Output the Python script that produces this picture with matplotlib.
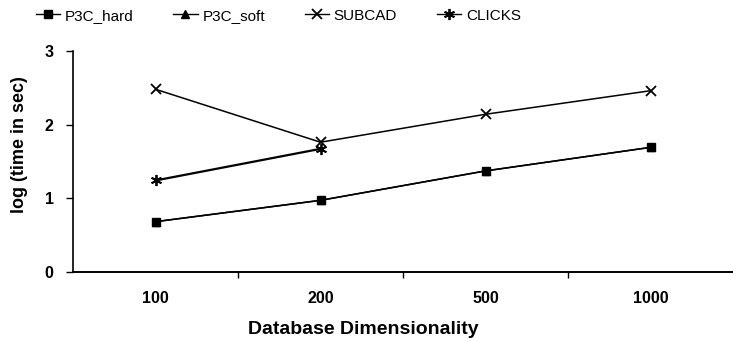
import numpy as np
import matplotlib
matplotlib.use("Agg")
import matplotlib.pyplot as plt
from matplotlib.lines import Line2D

plt.rcParams['font.family'] = ['Liberation Sans', 'DejaVu Sans']

dims = ["100", "200", "500", "1000"]
p3c_hard = [0.68, 0.97, 1.37, 1.69]
p3c_soft = [0.68, 0.97, 1.37, 1.69]
subcad = [2.48, 1.76, 2.14, 2.46]
clicks = [1.24, 1.67]

fig = plt.figure(figsize=(7.33, 3.42), dpi=100)
ax = fig.add_axes([73/733, (342-271.7)/342, 660/733, (271.7-51)/342])

x = np.arange(len(dims), dtype=float)
ax.plot(x, p3c_soft, linestyle="-", marker="^", color="black", lw=1.1, ms=6, zorder=2)
ax.plot(x, p3c_hard, linestyle="-", marker="s", color="black", lw=1.1, ms=6, zorder=3)
ax.plot(x, subcad, linestyle="-", marker="x", color="black", lw=1.1, ms=7, mew=1.3, zorder=3)

# CLICKS only has the first two dimensionalities
xc = x[:len(clicks)]
ax.plot(xc, clicks, linestyle="-", color="black", lw=1.6, zorder=5)
ax.plot(xc, clicks, linestyle="none", marker=(6, 2, 0), color="black", ms=8, mew=1.3, zorder=6)

ax.set_xlim(-0.5, 3.5)
ax.set_ylim(0, 3)
ax.set_yticks([0, 1, 2, 3])
ax.set_xticks(x)
ax.set_xticklabels(dims)
ax.set_xticks([0.5, 1.5, 2.5], minor=True)
ax.tick_params(axis="x", which="major", length=0, pad=14, labelsize=11.5)
ax.tick_params(axis="x", which="minor", length=4, width=1)
ax.tick_params(axis="y", length=5, width=1, pad=9, labelsize=11.5)
for t in ax.get_yticklabels() + ax.get_xticklabels():
    t.set_fontweight("bold")

ax.spines["top"].set_visible(False)
ax.spines["right"].set_visible(False)
ax.spines["left"].set_linewidth(1.2)
ax.spines["bottom"].set_linewidth(1.4)

ax.set_xlabel("Database Dimensionality", fontsize=14, fontweight="bold")
ax.xaxis.set_label_coords((363-73)/660, -(321-271.7)/220.7)
ax.set_ylabel("log (time in sec)", fontsize=13, fontweight="bold")
ax.yaxis.set_label_coords(-(73-28)/660, (271.7-145)/220.7)

handles = [
    Line2D([], [], color="black", lw=1, marker="s", ms=6),
    Line2D([], [], color="black", lw=1, marker="^", ms=6),
    Line2D([], [], color="black", lw=1, marker="x", ms=7, mew=1.3),
    Line2D([], [], color="black", lw=1, marker=(6, 2, 0), ms=8, mew=1.3),
]
labels = ["P3C_hard", "P3C_soft", "SUBCAD", "CLICKS"]
fig.legend(handles, labels,
           loc="upper left", bbox_to_anchor=(0.03, 1.015), ncol=4, frameon=False,
           fontsize=11, handlelength=1.6, handletextpad=0.3, columnspacing=2.6)

fig.savefig("out.png", dpi=100)
